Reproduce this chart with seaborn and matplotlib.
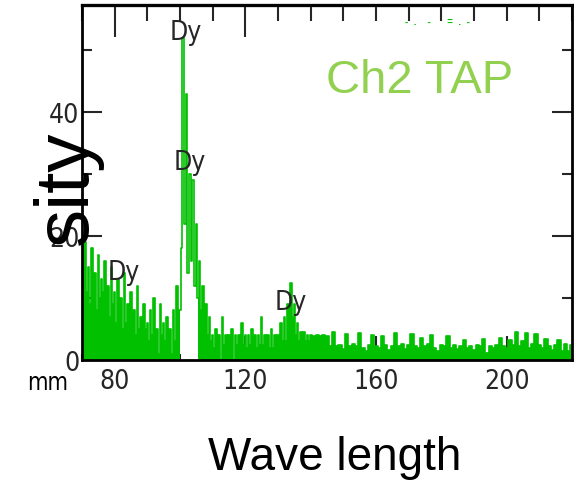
import numpy as np
import pandas as pd
import matplotlib
matplotlib.use('Agg')
import matplotlib.pyplot as plt
import seaborn as sns
from matplotlib.ticker import MultipleLocator, FixedLocator

#-------------------------------------------------------
green='#00c000'
light_green='#92d050'
narrow=dict(family='DejaVu Sans', stretch='condensed')

# fine steps over the noisy / peak part of the scan
wave_lo=np.arange(70, 140, 0.5)
counts_lo=[
17, 10, 19, 11, 15, 9, 18, 10, 14, 8, 17, 10, 13, 11, 16, 9, 12, 7, 15, 9,
11, 6, 13, 7, 10, 5, 14, 6, 9, 5, 11, 7, 8, 4, 12, 5, 7, 4, 9, 5,
6, 3, 8, 4, 10, 3, 5, 1, 9, 4, 6, 3, 7, 4, 5, 1, 8, 3, 12, 4,
8, 18, 52, 22, 43, 14, 30, 16, 29, 12, 22, 10, 16, 8, 12, 5, 9, 4, 7, 3,
4, 2, 5, 2.5, 4, 0, 7, 2.5, 4, 2, 4, 2.5, 5, 0, 4, 2.5, 4, 2, 6, 2.5,
4, 2, 4, 2.5, 5, 0, 4, 2, 4, 2.5, 7, 2.5, 4, 0, 4, 2, 5, 2, 4, 2.5,
4, 2.5, 6, 3, 7, 3, 9, 5, 12.5, 7, 9, 4, 6, 3, 4.5, 3, 4.5, 3, 4, 3,
]

# coarse steps over the flat tail
wave_hi=np.arange(140, 221, 1)
counts_hi=[
4, 3.8, 4, 3.8, 4, 3.9,
2.2, 4.5, 2.2, 2.5, 1.8, 4.2, 2.2, 2.6, 2.2, 4.4, 2.0, 1.5, 2.4, 4.0,
2.2, 2.0, 3.8, 2.4, 1.6, 2.2, 4.3, 2.2, 2.6, 1.8, 2.5, 4.2, 2.2, 2.0, 3.6,
2.3, 2.6, 4.0, 2.0, 1.5, 2.4, 2.2, 3.8, 2.0, 2.4, 1.8, 2.2, 3.2, 2.0, 2.2,
1.6, 2.4, 2.2, 3.4, 1.2, 2.2, 2.0, 2.4, 3.6, 2.2, 2.0, 3.2, 2.4, 4.6, 2.2,
3.0, 4.4, 2.0, 2.6, 4.2, 2.4, 2.0, 3.4, 2.2, 1.6, 2.4, 3.2, 1.5, 2.6, 1.4, 2.4,
]

# peak labels
peak_x=[101.8, 103.0, 82.8, 133.8]
peak_y=[51.8, 30.8, 13.1, 8.2]
peak_lab=['Dy', 'Dy', 'Dy', 'Dy']

x_major=[80, 120, 160, 200]
y_major=[0, 20, 40]
y_minor=[10, 30, 50]

#-------------------------------------------------------
sns.set_style('ticks')
plt.rcParams['font.family']=['Liberation Sans', 'DejaVu Sans']

df=pd.DataFrame({'wave': np.concatenate([wave_lo, wave_hi]),
                 'count': counts_lo+counts_hi})

fig=plt.figure(figsize=(5.74, 4.81), dpi=100)
ax=fig.add_axes([82/574, 1-361/481, 490/574, 355/481])

sns.lineplot(data=df, x='wave', y='count', ax=ax, color=green, lw=1.2,
             drawstyle='steps-mid', estimator=None, sort=False)
# solid body under the trace, except right under the big peak
body=(df['wave']<100.5)|(df['wave']>=105.5)
ax.fill_between(df['wave'], 0, df['count'], where=body, step='mid', color=green, lw=0)

ax.set_xlim(70, 220)
ax.set_ylim(0, 57.3)
ax.set_xlabel('')
ax.set_ylabel('')

#ticks
ax.xaxis.set_major_locator(FixedLocator(x_major))
ax.xaxis.set_minor_locator(MultipleLocator(10))
ax.yaxis.set_major_locator(FixedLocator(y_major))
ax.yaxis.set_minor_locator(FixedLocator(y_minor))
ax.tick_params(axis='x', which='major', direction='in', length=17, width=1.5, pad=6, labelsize=19)
ax.tick_params(axis='x', which='minor', direction='in', length=4.5, width=1.5)
ax.tick_params(axis='y', which='major', direction='in', length=14.5, width=1.5, right=True, pad=2, labelsize=19)
ax.tick_params(axis='y', which='minor', direction='in', length=7, width=1.5, right=True)
plt.setp(ax.get_xticklabels()+ax.get_yticklabels(), **narrow)

top=ax.secondary_xaxis('top')
top.set_xticks([80, 120])
top.xaxis.set_minor_locator(MultipleLocator(10))
top.tick_params(which='major', direction='in', length=23, width=1.5, labeltop=False)
top.tick_params(which='minor', direction='in', length=11.5, width=1.5)
top.spines['top'].set_linewidth(2.4)

for s in ax.spines.values():
	s.set_linewidth(2)
	s.set_color('black')
	s.set_visible(True)

#labels
for x, y, t in zip(peak_x, peak_y, peak_lab):
	ax.text(x, y, t, ha='center', va='baseline', fontsize=19, zorder=5, **narrow)

ax.text(0.66, 0.955, '-  .    -      =  .  -', transform=ax.transAxes, color=green,
        fontsize=7, fontweight='bold', ha='left', va='center')

fig.text(326/574, 1-93/481, 'Ch2 TAP', color=light_green, fontsize=34, ha='left', va='baseline')
fig.text(335/574, 1-470/481, 'Wave length', color='black', fontsize=33, ha='center', va='baseline')
fig.text(67.5/574, 1-187.5/481, 'sity', color='black', fontsize=55, rotation=90, ha='center', va='center', zorder=10)
fig.text(27/574, 1-390/481, 'mm', color='black', fontsize=17, ha='left', va='baseline', **narrow)

plt.savefig('out.png', dpi=100)
plt.close()
